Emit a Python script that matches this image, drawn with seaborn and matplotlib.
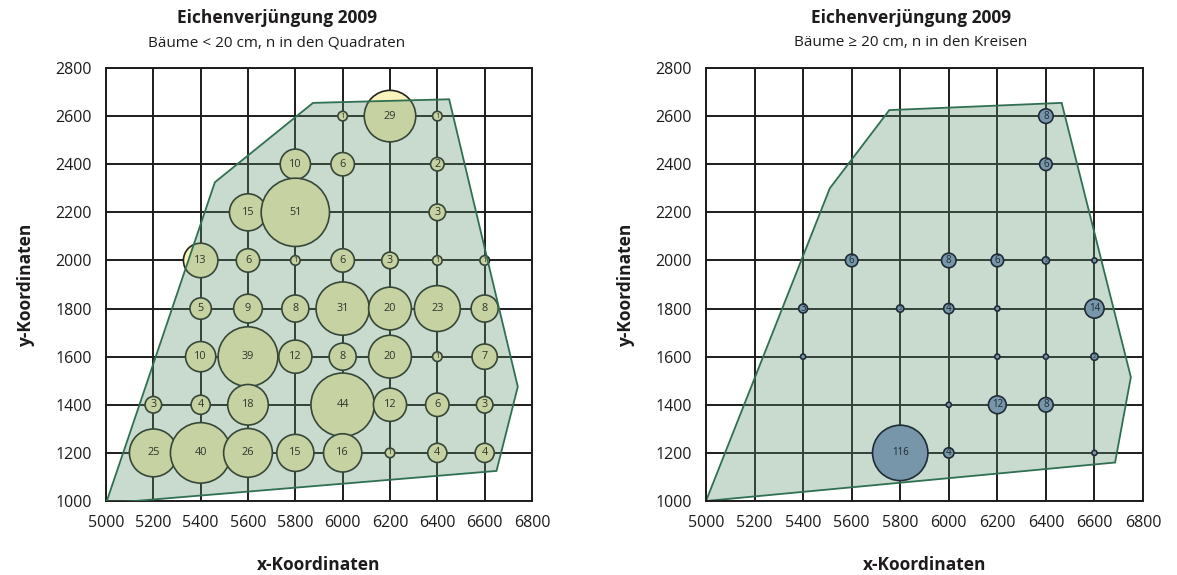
import matplotlib
matplotlib.use("Agg")
import matplotlib.pyplot as plt
from matplotlib.patches import Polygon
import seaborn as sns
import pandas as pd

# ---------------- data ----------------
# left panel: trees < 20 cm (counts in squares)
left_x = [6000, 6200, 6400,
          5800, 6000, 6400,
          5600, 5800, 6400,
          5400, 5600, 5800, 6000, 6200, 6400, 6600,
          5400, 5600, 5800, 6000, 6200, 6400, 6600,
          5400, 5600, 5800, 6000, 6200, 6400, 6600,
          5200, 5400, 5600, 6000, 6200, 6400, 6600,
          5200, 5400, 5600, 5800, 6000, 6200, 6400, 6600]
left_y = [2600, 2600, 2600,
          2400, 2400, 2400,
          2200, 2200, 2200,
          2000, 2000, 2000, 2000, 2000, 2000, 2000,
          1800, 1800, 1800, 1800, 1800, 1800, 1800,
          1600, 1600, 1600, 1600, 1600, 1600, 1600,
          1400, 1400, 1400, 1400, 1400, 1400, 1400,
          1200, 1200, 1200, 1200, 1200, 1200, 1200, 1200]
left_n = [1, 29, 1,
          10, 6, 2,
          15, 51, 3,
          13, 6, 1, 6, 3, 1, 1,
          5, 9, 8, 31, 20, 23, 8,
          10, 39, 12, 8, 20, 1, 7,
          3, 4, 18, 44, 12, 6, 3,
          25, 40, 26, 15, 16, 1, 4, 4]
left_hull_x = [5000, 5460, 5875, 6450, 6740, 6650]
left_hull_y = [990, 2325, 2655, 2670, 1475, 1125]

# right panel: trees >= 20 cm (counts in circles)
right_x = [6400,
           6400,
           5600, 6000, 6200, 6400, 6600,
           5400, 5800, 6000, 6200, 6600,
           5400, 6200, 6400, 6600,
           6000, 6200, 6400,
           5800, 6000, 6600]
right_y = [2600,
           2400,
           2000, 2000, 2000, 2000, 2000,
           1800, 1800, 1800, 1800, 1800,
           1600, 1600, 1600, 1600,
           1400, 1400, 1400,
           1200, 1200, 1200]
right_n = [8,
           6,
           6, 8, 6, 2, 1,
           3, 2, 4, 1, 14,
           1, 1, 1, 2,
           1, 12, 8,
           116, 4, 1]
right_hull_x = [5000, 5510, 5755, 6465, 6750, 6685]
right_hull_y = [1000, 2300, 2625, 2655, 1515, 1160]

ticks = [5000, 5200, 5400, 5600, 5800, 6000, 6200, 6400, 6600, 6800]
yticks = [1000, 1200, 1400, 1600, 1800, 2000, 2200, 2400, 2600, 2800]

titles = ["Eichenverjüngung 2009", "Eichenverjüngung 2009"]
subtitles = ["Bäume < 20 cm, n in den Quadraten", "Bäume ≥ 20 cm, n in den Kreisen"]

# ---------------- style ----------------
sns.set_style("white")
plt.rcParams['font.family'] = ['Open Sans', 'DejaVu Sans']
DARK = '#1e1b1c'

W, H = 1177, 575
fig = plt.figure(figsize=(W / 100, H / 100), dpi=100)

def px_axes(x0, x1, y0, y1):
    return fig.add_axes([x0 / W, 1 - y1 / H, (x1 - x0) / W, (y1 - y0) / H])

axL = px_axes(106, 532, 68, 501)
axR = px_axes(706, 1143, 68, 501)

def base_axes(ax):
    ax.set_xlim(5000, 6800)
    ax.set_ylim(1000, 2800)
    ax.set_xticks(ticks)
    ax.set_yticks(yticks)
    ax.grid(True, color=DARK, lw=1.4)
    ax.set_axisbelow(True)
    for s in ax.spines.values():
        s.set_color(DARK)
        s.set_linewidth(1.4)
    ax.tick_params(direction='out', length=6, width=1.3, color=DARK,
                   labelsize=11.5, labelcolor=DARK, pad=4)

def labels(ax):
    ax.set_xlabel("x-Koordinaten", fontsize=12.5, fontweight='bold', color=DARK, labelpad=18)
    ax.set_ylabel("y-Koordinaten", fontsize=12.5, fontweight='bold', color=DARK, labelpad=15)

# ---- left panel ----
base_axes(axL)
dfL = pd.DataFrame({'x': left_x, 'y': left_y, 'n': left_n})
kL = 47.4
sns.scatterplot(data=dfL, x='x', y='y', size='n', sizes=(kL * 1, kL * 51), size_norm=(1, 51),
                color='#faf3bc', edgecolor='#24241f', linewidth=1.2, legend=False,
                ax=axL, zorder=3)
axL.add_patch(Polygon(list(zip(left_hull_x, left_hull_y)), closed=True,
                      facecolor=(92 / 255, 144 / 255, 109 / 255, 0.33),
                      edgecolor='#2f7052', lw=1.3, zorder=4))
for x, y, n in zip(left_x, left_y, left_n):
    axL.text(x, y, str(n), ha='center', va='center', fontsize=7.8 if n > 1 else 5.5,
             color='#33332e', zorder=5)
labels(axL)

# ---- right panel ----
base_axes(axR)
axR.add_patch(Polygon(list(zip(right_hull_x, right_hull_y)), closed=True,
                      facecolor=(92 / 255, 144 / 255, 109 / 255, 0.33),
                      edgecolor='#2f7052', lw=1.3, zorder=2))
dfR = pd.DataFrame({'x': right_x, 'y': right_y, 'n': right_n})
kR = 13.7
sns.scatterplot(data=dfR, x='x', y='y', size='n', sizes=(kR * 1, kR * 116), size_norm=(1, 116),
                color='#7896aa', edgecolor='#1f2c38', linewidth=1.2, legend=False,
                ax=axR, zorder=3)
for x, y, n in zip(right_x, right_y, right_n):
    if n >= 2:
        axR.text(x, y, str(n), ha='center', va='center', fontsize=7 if n >= 3 else 4,
                 color='#1f2a33', zorder=5)
labels(axR)

# ---- titles ----
for cx, t, st in [(277, titles[0], subtitles[0]), (911, titles[1], subtitles[1])]:
    fig.text(cx / W, 1 - 18 / H, t, ha='center', va='center', fontsize=12.5,
             fontweight='bold', color=DARK)
    fig.text(cx / W, 1 - 43 / H, st, ha='center', va='center', fontsize=11, color=DARK)

fig.savefig("out.png", dpi=100)
